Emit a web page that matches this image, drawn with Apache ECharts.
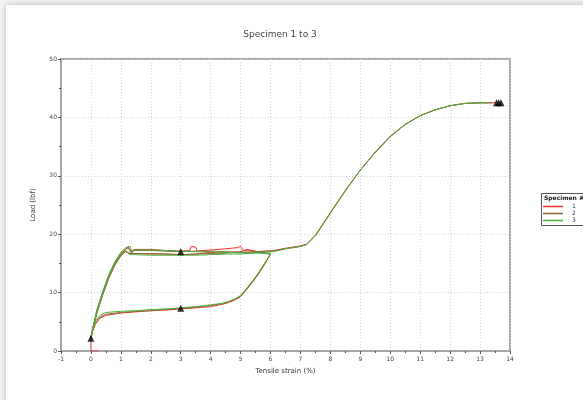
<!DOCTYPE html>
<html>
<head>
<meta charset="utf-8">
<script src="https://cdn.jsdelivr.net/npm/echarts@6/dist/echarts.min.js"></script>
<style>
  body { margin: 0; background: #f4f4f4; }
  .card { position: absolute; left: 6px; top: 5px; width: 600px; height: 420px; background: #fff; box-shadow: 0 0 6px rgba(0,0,0,0.25); }
  #chart { position: absolute; left: 0; top: 0; width: 583px; height: 400px; }
</style>
</head>
<body>
<div class="card"></div>
<div id="chart"></div>
<script>
// tick labels
var xTicks = [-1, 0, 1, 2, 3, 4, 5, 6, 7, 8, 9, 10, 11, 12, 13, 14];
var yTicks = [0, 10, 20, 30, 40, 50];
var legendNames = ["1", "2", "3"];

// specimen 1 (red)
var strain1 = [0.25, 0, 0, 0.1, 0.2, 0.4, 0.6, 0.8, 1.0, 1.15, 1.25, 1.3, 1.35, 1.45, 2, 2.5, 3, 3.3, 3.35, 3.5, 3.55, 4, 4.5, 4.9, 5.0, 5.1, 5.3, 5.6, 6.0,
  5.8, 5.6, 5.4, 5.2, 5.0, 4.8, 4.6, 4.4, 4.0, 3.5, 3.0, 2.5, 2.0, 1.5, 1.0, 0.5, 0.3, 0.15, 0.05, 0,
  0.1, 0.2, 0.4, 0.6, 0.8, 1.0, 1.15, 1.3, 1.4, 2, 2.5, 3, 3.5, 4, 4.3, 4.5, 5, 5.2, 5.5, 6.1, 6.5, 7, 7.2, 7.5, 8, 8.5, 9, 9.5, 10, 10.5, 11, 11.5, 12, 12.5, 13, 13.5];
var load1 = [0, 0, 2.2, 4.6, 6.8, 10.0, 12.8, 15.0, 16.6, 17.4, 17.8, 17.7, 16.9, 17.4, 17.4, 17.2, 17.1, 17.2, 17.9, 17.8, 17.1, 17.3, 17.5, 17.7, 17.9, 17.2, 17.3, 17.0, 16.6,
  14.8, 13.2, 11.8, 10.5, 9.3, 8.7, 8.3, 8.0, 7.6, 7.4, 7.2, 7.0, 6.9, 6.7, 6.5, 6.1, 5.6, 4.6, 3.4, 2.2,
  4.4, 6.5, 9.7, 12.5, 14.7, 16.3, 17.0, 16.7, 16.7, 16.6, 16.6, 16.5, 16.6, 16.9, 16.7, 16.8, 17.0, 17.4, 17.0, 17.2, 17.6, 18.0, 18.3, 19.8, 23.7, 27.5, 31.0, 34.1, 36.8, 38.8, 40.3, 41.3, 42.0, 42.4, 42.5, 42.5];

// specimen 2 (brown)
var strain2 = [0, 0.1, 0.2, 0.4, 0.6, 0.8, 1.0, 1.15, 1.25, 1.3, 1.35, 1.45, 2, 2.5, 3, 3.5, 4, 4.5, 5, 5.5, 6.0,
  5.8, 5.6, 5.4, 5.2, 5.0, 4.8, 4.6, 4.4, 4.0, 3.5, 3.0, 2.5, 2.0, 1.5, 1.0, 0.5, 0.3, 0.15, 0.05, 0,
  0.1, 0.2, 0.4, 0.6, 0.8, 1.0, 1.15, 1.3, 1.4, 2, 2.5, 3, 3.5, 4, 4.5, 5, 5.5, 6.1, 6.5, 7, 7.2, 7.5, 8, 8.5, 9, 9.5, 10, 10.5, 11, 11.5, 12, 12.5, 13, 13.4];
var load2 = [2.2, 4.7, 6.9, 10.1, 12.9, 15.1, 16.7, 17.4, 17.7, 17.6, 16.8, 17.2, 17.2, 17.1, 17.0, 17.1, 17.1, 17.0, 16.9, 16.9, 16.7,
  14.9, 13.3, 11.9, 10.6, 9.4, 8.8, 8.4, 8.1, 7.8, 7.5, 7.3, 7.1, 6.9, 6.8, 6.6, 6.3, 5.8, 4.9, 3.6, 2.2,
  4.5, 6.6, 9.8, 12.6, 14.8, 16.4, 17.1, 16.7, 16.7, 16.7, 16.6, 16.5, 16.6, 16.7, 16.8, 16.9, 17.0, 17.1, 17.5, 17.9, 18.2, 19.7, 23.6, 27.4, 31.0, 34.0, 36.7, 38.8, 40.3, 41.3, 42.0, 42.4, 42.5, 42.5];

// specimen 3 (green)
var strain3 = [0, 0.1, 0.2, 0.4, 0.6, 0.8, 1.0, 1.15, 1.25, 1.32, 1.35, 1.38, 1.5, 2, 2.5, 3, 3.5, 4, 4.5, 5, 5.5, 6.0,
  5.8, 5.6, 5.4, 5.2, 5.0, 4.8, 4.6, 4.4, 4.0, 3.5, 3.0, 2.5, 2.0, 1.5, 1.0, 0.5, 0.3, 0.15, 0.05, 0,
  0.1, 0.2, 0.4, 0.6, 0.8, 1.0, 1.15, 1.3, 1.4, 2, 2.5, 3, 3.5, 4, 4.5, 5, 5.5, 6.1, 6.5, 7, 7.2, 7.5, 8, 8.5, 9, 9.5, 10, 10.5, 11, 11.5, 12, 12.5, 13, 13.3];
var load3 = [2.2, 4.9, 7.1, 10.3, 13.1, 15.3, 16.9, 17.6, 17.9, 17.9, 16.9, 17.3, 17.3, 17.3, 17.2, 17.1, 17.0, 17.0, 16.9, 16.8, 16.8, 16.6,
  15.0, 13.4, 12.0, 10.7, 9.5, 8.9, 8.5, 8.2, 7.9, 7.6, 7.4, 7.2, 7.1, 6.9, 6.8, 6.6, 6.1, 5.2, 3.8, 2.2,
  4.6, 6.7, 9.9, 12.7, 14.9, 16.5, 17.2, 16.5, 16.5, 16.4, 16.4, 16.4, 16.4, 16.5, 16.6, 16.6, 16.8, 17.0, 17.5, 17.9, 18.2, 19.8, 23.7, 27.5, 31.0, 34.0, 36.7, 38.8, 40.3, 41.3, 42.0, 42.4, 42.5, 42.5];

// black triangle markers
var markStrain = [0, 3, 3, 13.55, 13.62, 13.7];
var markLoad = [2.2, 17.0, 7.3, 42.5, 42.5, 42.5];

var colors = ["#e8312c", "#8a6a32", "#48b03c"];

function pairs(xs, ys) {
  var out = [];
  for (var i = 0; i < xs.length; i++) out.push([xs[i], ys[i]]);
  return out;
}

var lineSeries = [[strain1, load1], [strain2, load2], [strain3, load3]].map(function(s, i) {
  return {
    name: legendNames[i],
    type: "line",
    data: pairs(s[0], s[1]),
    showSymbol: false,
    symbol: "none",
    animation: false,
    lineStyle: { width: 1, color: colors[i] },
    itemStyle: { color: colors[i] }
  };
});

var axisGray = "#a6a6a6";
var font = "DejaVu Sans";

var chart = echarts.init(document.getElementById("chart"));
chart.setOption({
  backgroundColor: "transparent",
  animation: false,
  textStyle: { fontFamily: font },
  title: {
    text: "Specimen 1 to 3",
    left: 275,
    top: 25,
    textAlign: "center",
    textStyle: { fontSize: 9, fontWeight: "normal", color: "#444", fontFamily: font }
  },
  grid: {
    left: 61, right: 73, top: 59, bottom: 49,
    show: true, borderColor: axisGray, borderWidth: 2, backgroundColor: "transparent"
  },
  legend: {
    data: legendNames,
    orient: "vertical",
    left: 543,
    top: 203,
    itemWidth: 20,
    itemHeight: 1.5,
    itemGap: 0,
    icon: "rect",
    inactiveColor: "#ccc",
    textStyle: { fontSize: 6, lineHeight: 7, color: "#333", fontFamily: font, padding: [0, 0, 0, 4] },
    padding: 0
  },
  graphic: [
    { type: "rect", left: 541, top: 193, shape: { width: 48, height: 32 }, style: { fill: "#fff", stroke: "#555", lineWidth: 1 }, z: 0 },
    { type: "text", left: 544, top: 195, style: { text: "Specimen #", font: "bold 6px DejaVu Sans", fill: "#222" }, z: 1 }
  ],
  xAxis: {
    type: "value",
    min: xTicks[0],
    max: xTicks[xTicks.length - 1],
    interval: 1,
    name: "Tensile strain (%)",
    nameLocation: "middle",
    nameGap: 17,
    nameTextStyle: { fontSize: 7, color: "#333" },
    axisLine: { onZero: false, lineStyle: { color: axisGray, width: 2 } },
    axisTick: { length: 3, lineStyle: { color: "#555" } },
    minorTick: { show: true, splitNumber: 2, length: 2, lineStyle: { color: "#555" } },
    axisLabel: { fontSize: 6, color: "#444", margin: 5 },
    splitLine: { show: true, lineStyle: { color: "#d2d2d2", type: [1, 2], width: 1 } }
  },
  yAxis: {
    type: "value",
    min: yTicks[0],
    max: yTicks[yTicks.length - 1],
    interval: 10,
    name: "Load (lbf)",
    nameLocation: "middle",
    nameGap: 24,
    nameTextStyle: { fontSize: 7, color: "#333" },
    axisLine: { onZero: false, lineStyle: { color: axisGray, width: 2 } },
    axisTick: { length: 3, lineStyle: { color: "#555" } },
    minorTick: { show: true, splitNumber: 2, length: 2, lineStyle: { color: "#555" } },
    axisLabel: { fontSize: 6, color: "#444", margin: 4 },
    splitLine: { show: true, lineStyle: { color: "#d2d2d2", type: [1, 2], width: 1 } }
  },
  series: lineSeries.concat([{
    name: "markers",
    type: "scatter",
    data: pairs(markStrain, markLoad),
    symbol: "triangle",
    symbolSize: 7,
    itemStyle: { color: "#000" },
    z: 5
  }])
});
</script>
</body>
</html>
